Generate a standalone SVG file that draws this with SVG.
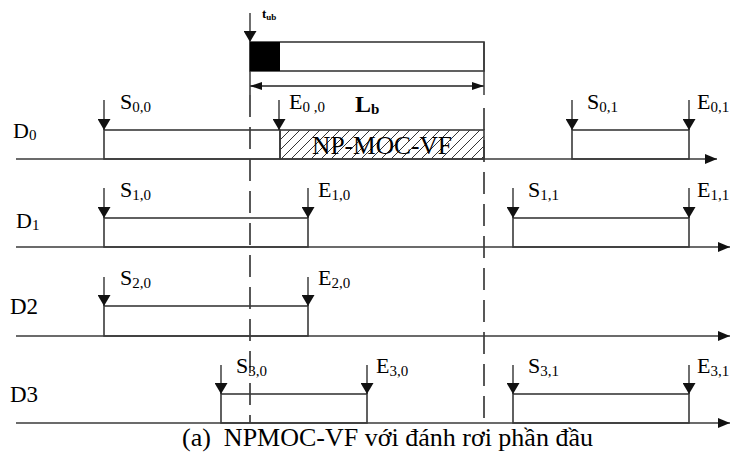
<svg xmlns="http://www.w3.org/2000/svg" width="733" height="462" viewBox="0 0 733 462">
<style>
.ln{stroke:#3a3a3a;stroke-width:1.5;fill:none}
.box{stroke:#3a3a3a;stroke-width:1.6;fill:none}
.dash{stroke:#222;stroke-width:1.5;fill:none;stroke-dasharray:22,10}
.lbl{font-family:"Liberation Serif","Times New Roman",serif;font-size:22px;fill:#000}
.sub{font-size:15px}
.ax{stroke:#3a3a3a;stroke-width:1.6;fill:none;marker-end:url(#ah)}
.dn{stroke:#222;stroke-width:1.3;fill:none;marker-end:url(#dh)}
</style>
<defs>
<marker id="ah" viewBox="0 0 12 10" refX="12" refY="5" markerWidth="12" markerHeight="10" markerUnits="userSpaceOnUse" orient="auto"><path d="M0,0 L12,5 L0,10 z" fill="#111"/></marker>
<marker id="dh" viewBox="0 0 11 13" refX="11" refY="6.5" markerWidth="11" markerHeight="13" markerUnits="userSpaceOnUse" orient="auto"><path d="M0,0 L11,6.5 L0,13 z" fill="#111"/></marker>
<marker id="lh" viewBox="0 0 12 8" refX="12" refY="4" markerWidth="12" markerHeight="8" markerUnits="userSpaceOnUse" orient="auto-start-reverse"><path d="M0,0 L12,4 L0,8 z" fill="#111"/></marker>
<pattern id="hatch" patternUnits="userSpaceOnUse" width="10" height="10"><path d="M-2,12 L12,-2 M-2,2 L2,-2 M8,12 L12,8" stroke="#333" stroke-width="1"/></pattern>
</defs>

<g id="connectors">
<line class="dash" x1="250" y1="95" x2="250" y2="423"/>
<line class="dash" x1="484" y1="108" x2="484" y2="423"/>
<line class="dn" x1="250" y1="13" x2="250" y2="42"/>
<line x1="250" y1="86" x2="484" y2="86" stroke="#222" stroke-width="1.3" marker-start="url(#lh)" marker-end="url(#lh)"/>
<line class="ln" x1="250" y1="42" x2="250" y2="95"/>
<line class="ln" x1="484" y1="42" x2="484" y2="95"/>
</g>

<g id="buffer">
<rect class="box" x="250" y="42" width="234" height="29"/>
<rect x="250" y="42" width="30" height="29" fill="#000"/>
<text class="lbl" x="262" y="18" style="font-size:13px;font-weight:bold">t<tspan style="font-size:9px" dy="2">ub</tspan></text>
<text class="lbl" x="355" y="112" style="font-weight:bold;font-size:24px">L<tspan class="sub" dy="2">b</tspan></text>
</g>

<g id="row-D0">
<text class="lbl" x="13" y="138">D<tspan class="sub" dy="2">0</tspan></text>
<line class="ax" x1="16" y1="159" x2="717" y2="159"/>
<rect class="box" x="104" y="130" width="176" height="29"/>
<rect x="280" y="130" width="204" height="29" fill="url(#hatch)" stroke="#3a3a3a" stroke-width="1.6"/>
<text class="lbl" x="312" y="154" textLength="140" lengthAdjust="spacingAndGlyphs" style="font-size:26px">NP-MOC-VF</text>
<rect class="box" x="572" y="130" width="117" height="29"/>
<line class="dn" x1="104" y1="100" x2="104" y2="130"/>
<line class="dn" x1="279" y1="100" x2="279" y2="130"/>
<line class="dn" x1="572" y1="100" x2="572" y2="130"/>
<line class="dn" x1="689" y1="100" x2="689" y2="130"/>
<text class="lbl" x="120" y="109">S<tspan class="sub" dy="3">0,0</tspan></text>
<text class="lbl" x="289" y="109">E<tspan class="sub" dy="3">0 ,0</tspan></text>
<text class="lbl" x="587" y="109">S<tspan class="sub" dy="3">0,1</tspan></text>
<text class="lbl" x="697" y="109">E<tspan class="sub" dy="3">0,1</tspan></text>
</g>

<g id="row-D1">
<text class="lbl" x="16" y="228">D<tspan class="sub" dy="2">1</tspan></text>
<line class="ax" x1="16" y1="247" x2="730" y2="247"/>
<rect class="box" x="104" y="218" width="204" height="29"/>
<rect class="box" x="513" y="218" width="176" height="29"/>
<line class="dn" x1="104" y1="188" x2="104" y2="218"/>
<line class="dn" x1="308" y1="188" x2="308" y2="218"/>
<line class="dn" x1="513" y1="188" x2="513" y2="218"/>
<line class="dn" x1="689" y1="188" x2="689" y2="218"/>
<text class="lbl" x="120" y="197">S<tspan class="sub" dy="3">1,0</tspan></text>
<text class="lbl" x="318" y="197">E<tspan class="sub" dy="3">1,0</tspan></text>
<text class="lbl" x="528" y="197">S<tspan class="sub" dy="3">1,1</tspan></text>
<text class="lbl" x="697" y="197">E<tspan class="sub" dy="3">1,1</tspan></text>
</g>

<g id="row-D2">
<text class="lbl" x="10" y="314" style="font-size:23px">D2</text>
<line class="ax" x1="16" y1="336" x2="730" y2="336"/>
<rect class="box" x="104" y="306" width="204" height="30"/>
<line class="dn" x1="104" y1="277" x2="104" y2="306"/>
<line class="dn" x1="308" y1="277" x2="308" y2="306"/>
<text class="lbl" x="120" y="285">S<tspan class="sub" dy="3">2,0</tspan></text>
<text class="lbl" x="318" y="285">E<tspan class="sub" dy="3">2,0</tspan></text>
</g>

<g id="row-D3">
<text class="lbl" x="10" y="402" style="font-size:23px">D3</text>
<line class="ax" x1="16" y1="423" x2="730" y2="423"/>
<rect class="box" x="221" y="394" width="146" height="29"/>
<rect class="box" x="513" y="394" width="176" height="29"/>
<line class="dn" x1="221" y1="365" x2="221" y2="394"/>
<line class="dn" x1="367" y1="365" x2="367" y2="394"/>
<line class="dn" x1="513" y1="365" x2="513" y2="394"/>
<line class="dn" x1="689" y1="365" x2="689" y2="394"/>
<text class="lbl" x="236" y="373">S<tspan class="sub" dy="3">3,0</tspan></text>
<text class="lbl" x="376" y="373">E<tspan class="sub" dy="3">3,0</tspan></text>
<text class="lbl" x="528" y="373">S<tspan class="sub" dy="3">3,1</tspan></text>
<text class="lbl" x="697" y="373">E<tspan class="sub" dy="3">3,1</tspan></text>
</g>

<text class="lbl" x="182" y="446" style="font-size:26px" xml:space="preserve">(a)  NPMOC-VF với đánh rơi phần đầu</text>
</svg>
